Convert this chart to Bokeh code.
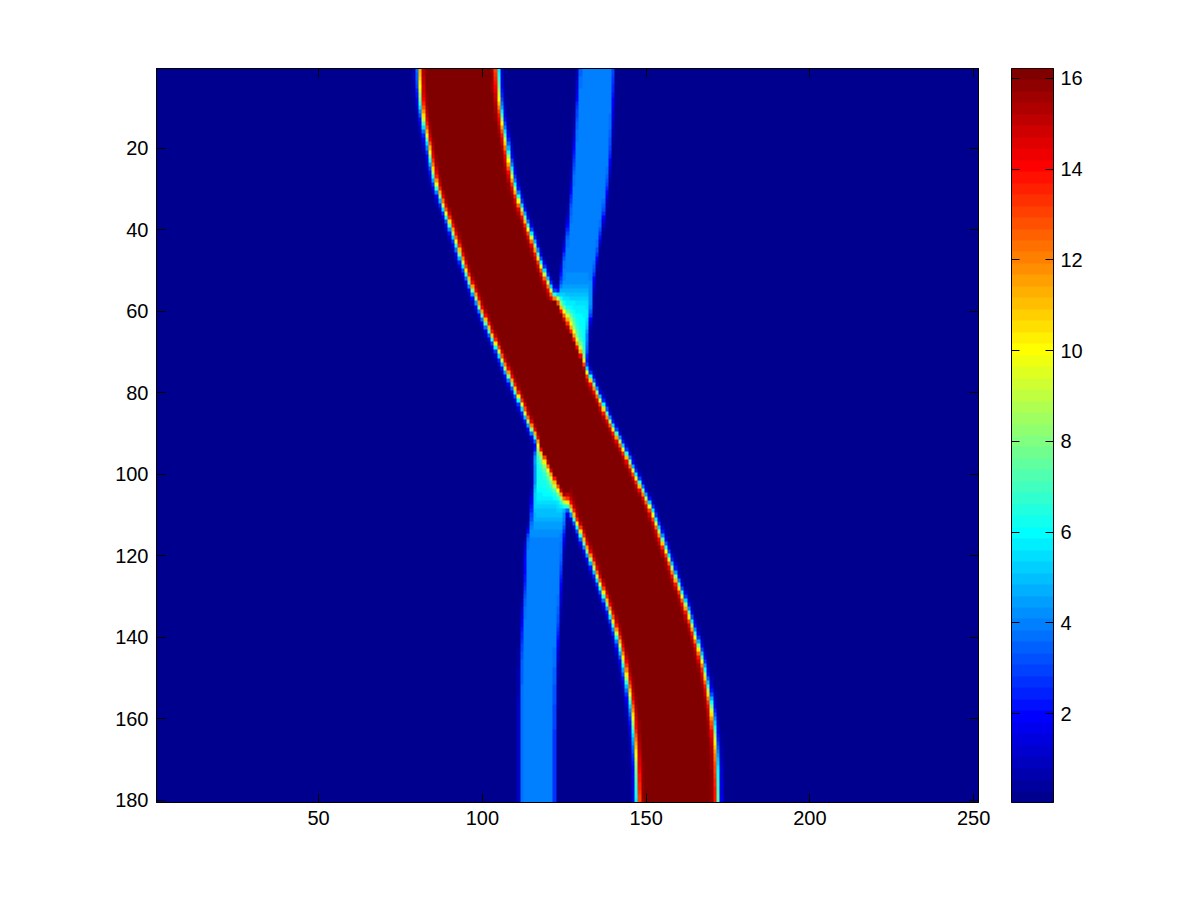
import numpy as np
from bokeh.plotting import figure
from bokeh.models import Range1d, LinearColorMapper, FixedTicker, LinearAxis, CustomJSTickFormatter
from bokeh.layouts import row
from bokeh.embed import file_html
from bokeh.resources import INLINE

# ---------------- data ----------------
n_rows, n_cols = 180, 251

# large (table-top) soliton: edge positions (column units) at sampled rows
big_rows  = [1, 6.6, 14.8, 19.7, 25.5, 29.5, 36, 44, 52.4, 57.4, 61.4, 65.5, 69.6, 73.7, 77.8, 81.9, 88.4, 90.9,
             95, 99.1, 103.2, 107.3, 111.4, 116.2, 124.4, 132.6, 140.8, 147.3, 153.9, 162.1, 170.3, 180]
big_left  = [80.6, 80.9, 82.3, 83.5, 84.8, 86.0, 88.8, 92.2, 95.8, 98.2, 100.3, 102.4, 104.6, 106.8, 109.0, 111.2, 114.7, 116.1,
             118.6, 121.0, 123.4, 125.9, 128.4, 130.7, 134.6, 138.3, 141.5, 143.3, 144.8, 146.1, 146.9, 147.3]
big_right = [104.7, 105.1, 106.4, 107.5, 108.8, 109.9, 112.5, 116.0, 119.8, 122.5, 124.9, 127.2, 129.4, 131.5, 133.8, 136.1, 139.9, 141.4,
             143.8, 146.2, 148.5, 150.8, 152.9, 155.0, 158.7, 162.3, 165.5, 167.6, 169.3, 170.8, 171.6, 171.9]
big_soft_left  = [1.0, 1.0, 1.0, 1.0, 1.0, 1.0, 1.0, 1.0, 1.0, 1.0, 1.0, 1.0, 1.0, 1.0, 1.0, 1.0, 1.0, 1.0,
                  1.4, 1.5, 1.6, 1.4, 1.0, 1.0, 1.0, 1.0, 1.0, 1.0, 1.0, 1.0, 1.0, 1.0]
big_soft_right = [1.0, 1.0, 1.0, 1.0, 1.0, 1.0, 1.0, 1.0, 1.0, 1.2, 2.2, 1.8, 1.3, 1.0, 1.0, 1.0, 1.0, 1.0,
                  1.0, 1.0, 1.0, 1.0, 1.0, 1.0, 1.0, 1.0, 1.0, 1.0, 1.0, 1.0, 1.0, 1.0]
big_amp = 16.22

# small soliton: edges and height at sampled rows
small_rows  = [1, 29, 44, 52, 55, 58, 61, 65, 70, 74, 80, 86, 91, 94, 99, 103, 107, 111.4,
               116.2, 124.4, 132.6, 140.8, 147.3, 153, 180]
small_left  = [129.5, 127.2, 125.2, 123.8, 123.2, 121.5, 120.0, 118.5, 117.0, 116.2, 116.0, 116.8, 117.6,
               116.3, 115.8, 115.7, 115.2, 114.7, 113.5, 113.0, 112.4, 111.8, 111.5, 111.4, 111.3]
small_right = [140.3, 138.3, 135.6, 134.0, 133.6, 133.3, 133.0, 132.3, 132.0, 131.0, 129.0, 127.0, 125.6,
               125.5, 125.5, 125.5, 125.4, 125.4, 124.9, 124.2, 123.6, 123.0, 122.6, 122.4, 122.2]
small_amp   = [4.0, 4.0, 4.0, 4.1, 4.8, 5.6, 5.8, 5.8, 5.5, 5.0, 5.0, 5.0, 5.5,
               6.0, 6.2, 6.2, 5.5, 4.6, 4.0, 4.0, 4.0, 4.0, 4.0, 4.0, 4.0]
small_soft = 0.55

color_low, color_high = 0.04, 16.22
x_ticks = [50, 100, 150, 200, 250]
y_ticks = [20, 40, 60, 80, 100, 120, 140, 160, 180]
cbar_ticks = [2, 4, 6, 8, 10, 12, 14, 16]


# ---------------- smooth curves through the read points ----------------
def natural_spline(xk, yk, x):
    xk = np.asarray(xk, float); yk = np.asarray(yk, float)
    n = len(xk); h = np.diff(xk)
    A = np.zeros((n, n)); rhs = np.zeros(n)
    A[0, 0] = 1.0; A[-1, -1] = 1.0
    for k in range(1, n - 1):
        A[k, k - 1] = h[k - 1]; A[k, k] = 2 * (h[k - 1] + h[k]); A[k, k + 1] = h[k]
        rhs[k] = 3 * ((yk[k + 1] - yk[k]) / h[k] - (yk[k] - yk[k - 1]) / h[k - 1])
    c = np.linalg.solve(A, rhs)
    b = (yk[1:] - yk[:-1]) / h - h * (2 * c[:-1] + c[1:]) / 3
    d = (c[1:] - c[:-1]) / (3 * h)
    idx = np.clip(np.searchsorted(xk, x) - 1, 0, n - 2)
    t = x - xk[idx]
    return yk[idx] + b[idx] * t + c[idx] * t ** 2 + d[idx] * t ** 3


rows = np.arange(1, n_rows + 1, dtype=float)
cols = np.arange(1, n_cols + 1, dtype=float)
L = natural_spline(big_rows, big_left, rows)[:, None]
R = natural_spline(big_rows, big_right, rows)[:, None]
WL = np.interp(rows, big_rows, big_soft_left)[:, None]
WR = np.interp(rows, big_rows, big_soft_right)[:, None]
SL = natural_spline(small_rows, small_left, rows)[:, None]
SR = natural_spline(small_rows, small_right, rows)[:, None]
SA = np.interp(rows, small_rows, small_amp)[:, None]
C = cols[None, :]
field = big_amp * 0.5 * (np.tanh((C - L) / WL) - np.tanh((C - R) / WR))
field += SA * 0.5 * (np.tanh((C - SL) / small_soft) - np.tanh((C - SR) / small_soft))

# MATLAB jet(64)
i = np.arange(1, 65, dtype=float)
def ramp(a):
    return np.clip(a, 0, 1)
r_ = ramp(np.minimum((i - 24) / 16, (72 - i) / 16))
g_ = ramp(np.minimum((i - 8) / 16, (56 - i) / 16))
b_ = ramp(np.minimum((i + 8) / 16, (40 - i) / 16))
jet = ["#%02x%02x%02x" % (int(round(r * 255)), int(round(g * 255)), int(round(b * 255)))
       for r, g, b in zip(r_, g_, b_)]

mapper = LinearColorMapper(palette=jet, low=color_low, high=color_high)

FONT = "Liberation Sans"
FS = "20px"
empty_fmt = CustomJSTickFormatter(code="return ''")

# ---------------- main figure ----------------
p = figure(output_backend="svg", toolbar_location=None,
           frame_width=822, frame_height=734,
           x_range=Range1d(0.5, n_cols + 0.5), y_range=Range1d(n_rows + 0.5, 0.5),
           min_border_left=156, min_border_top=68, min_border_right=20, min_border_bottom=70)
p.image(image=[field], x=0.5, y=0.5, dw=n_cols, dh=n_rows, color_mapper=mapper)
p.grid.visible = False
p.outline_line_color = "black"
p.outline_line_width = 1
p.background_fill_color = "white"

for ax, ticks in ((p.xaxis[0], x_ticks), (p.yaxis[0], y_ticks)):
    ax.ticker = FixedTicker(ticks=ticks)
    ax.major_tick_in = 9
    ax.major_tick_out = 0
    ax.minor_tick_in = 0
    ax.minor_tick_out = 0
    ax.major_label_text_font = FONT
    ax.major_label_text_font_size = FS
    ax.major_label_text_color = "black"
    ax.axis_line_color = "black"
    ax.major_tick_line_color = "black"
    ax.major_label_standoff = 8

top_ax = LinearAxis(ticker=FixedTicker(ticks=x_ticks), formatter=empty_fmt,
                    major_tick_in=9, major_tick_out=0, minor_tick_in=0, minor_tick_out=0,
                    major_label_standoff=0)
right_ax = LinearAxis(ticker=FixedTicker(ticks=y_ticks), formatter=empty_fmt,
                      major_tick_in=9, major_tick_out=0, minor_tick_in=0, minor_tick_out=0,
                      major_label_standoff=0)
p.add_layout(top_ax, "above")
p.add_layout(right_ax, "right")

# ---------------- colorbar figure ----------------
nb = len(jet)
step = (color_high - color_low) / nb
bar_vals = (color_low + step * (np.arange(nb) + 0.5))[:, None]
cb = figure(output_backend="svg", toolbar_location=None,
            frame_width=42, frame_height=734,
            x_range=Range1d(0, 1), y_range=Range1d(color_low, color_high),
            x_axis_location=None, y_axis_location="right",
            min_border_left=13, min_border_top=68, min_border_right=50, min_border_bottom=70)
cb.image(image=[bar_vals], x=0, y=color_low, dw=1, dh=color_high - color_low, color_mapper=mapper)
cb.grid.visible = False
cb.outline_line_color = "black"
ax = cb.yaxis[0]
ax.ticker = FixedTicker(ticks=cbar_ticks)
ax.major_tick_in = 8
ax.major_tick_out = 0
ax.minor_tick_in = 0
ax.minor_tick_out = 0
ax.major_label_text_font = FONT
ax.major_label_text_font_size = FS
ax.major_label_text_color = "black"
ax.axis_line_color = "black"
ax.major_tick_line_color = "black"
ax.major_label_standoff = 7
left_cb = LinearAxis(ticker=FixedTicker(ticks=cbar_ticks), formatter=empty_fmt,
                     major_tick_in=8, major_tick_out=0, minor_tick_in=0, minor_tick_out=0,
                     major_label_standoff=0)
cb.add_layout(left_cb, "left")

layout = row(p, cb)
open("out.html", "w").write(file_html(layout, INLINE))
